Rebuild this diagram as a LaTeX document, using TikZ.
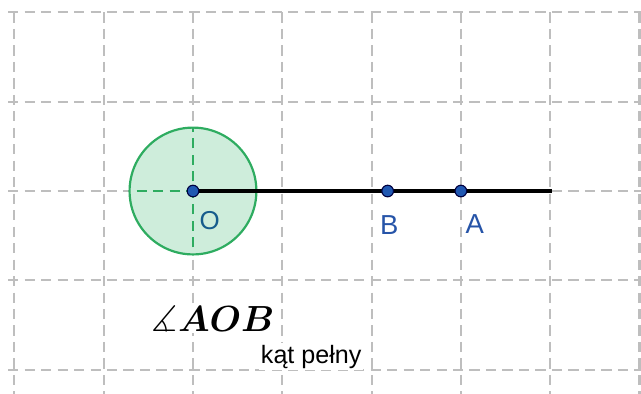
\documentclass[tikz,border=0pt]{standalone}
\usepackage{amsmath,amssymb}
\usepackage{fontspec}
\newfontfamily\geofont{Liberation Sans}
\usepackage{tikz}
\usetikzlibrary{positioning,calc}
\definecolor{gridgray}{RGB}{190,190,190}
\definecolor{anglegreen}{RGB}{46,172,96}
\definecolor{anglefill}{RGB}{206,237,219}
\definecolor{ptblue}{RGB}{32,88,178}
\definecolor{lblblue}{RGB}{38,84,168}
\definecolor{oblue}{RGB}{22,92,140}

\begin{document}
\begin{tikzpicture}[
  x=2cm, y=2cm,
  gridline/.style={gridgray, line width=1.35pt, dash pattern=on 6.5pt off 4pt},
  pt/.style={circle, fill=ptblue, draw=black!75!blue, line width=0.7pt,
             inner sep=0pt, minimum size=0.26cm},
  ray/.style={line width=2.8pt, black},
  lbl/.style={font=\geofont\fontsize{17.5}{20}\selectfont, text=lblblue, inner sep=0pt}
]
  \useasboundingbox (-2.161,-2.273) rectangle (5.017,2.139);

  \foreach \x in {-2,...,5}
    \draw[gridline] (\x,2) -- (\x,-2.35);
  \foreach \y in {-2,...,2}
    \draw[gridline] (-2.07,\y) -- (5.1,\y);

  \coordinate (O) at (0,0);
  \coordinate (B) at (2.18,0);
  \coordinate (A) at (3,0);
  \coordinate (rayend) at (4.02,0);

  \fill[anglefill] (O) circle (0.71);
  \begin{scope}
    \clip (O) circle (0.71);
    \draw[gridline, anglegreen] (-1,0) -- (O);
    \draw[gridline, anglegreen] (0,-1) -- (0,1);
  \end{scope}
  \draw[anglegreen, line width=1.4pt] (O) circle (0.71);

  \draw[ray] (O) -- (rayend);

  \node[pt] (dotO) at (O) {};
  \node[pt] (dotB) at (B) {};
  \node[pt] (dotA) at (A) {};

  \node[lbl, text=oblue, font=\geofont\fontsize{16.5}{20}\selectfont,
        below right=0.36cm and 0.04cm of dotO] (labO) {O};
  \node[lbl, below=0.4cm of dotB, xshift=1pt] (labB) {B};
  \node[lbl, below right=0.43cm and 0cm of dotA] (labA) {A};

  \node[anchor=base west, fill=white, inner sep=1pt,
        font=\Huge, scale=0.93, transform shape] (angname)
    at (-0.48,-1.568) {$\measuredangle\boldsymbol{AOB}$};
  \node[anchor=base west, fill=white, inner sep=1pt,
        font=\geofont\fontsize{16}{19}\selectfont] (angkind)
    at (0.74,-1.926) {kąt pełny};
\end{tikzpicture}
\end{document}
